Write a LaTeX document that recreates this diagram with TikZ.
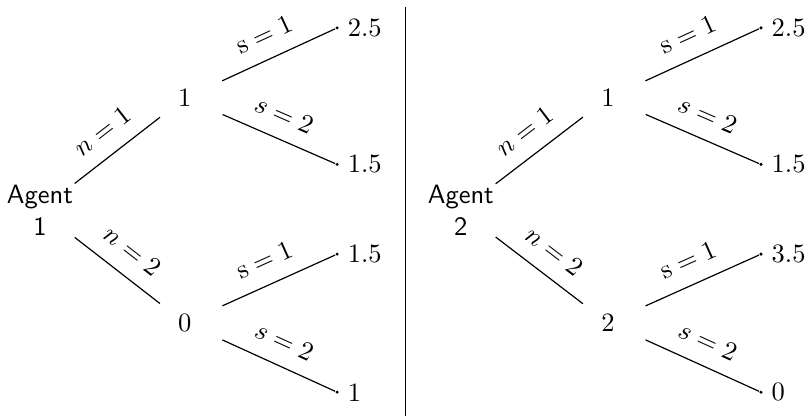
\documentclass[tikz,border=0pt]{standalone}
\usetikzlibrary{positioning}
\tikzset{
  agent/.style  = {align=center, font=\sffamily, inner sep=0.5pt},
  choice/.style = {circle, minimum size=8.2mm, inner sep=0pt},
  leaf/.style   = {circle, fill, inner sep=0.45pt},
  branch/.style = {line width=0.45pt},
  elabel/.style = {midway, above=2.5pt, sloped},
}

\begin{document}
\begin{tikzpicture}[
    every label/.style={inner sep=3pt}
]
\useasboundingbox (0,0) rectangle (10.70,-5.52);

% agent 1
\node[agent] (ag1) at (0.53,-2.79) {Agent\\1};
\node[choice] (ag1n1) at (2.45,-1.30) {1};
\node[choice] (ag1n2) at (2.45,-4.28) {0};

\node[leaf, label=right:2.5] (ag1n1s1) at (4.47,-0.37) {};
\node[leaf, label=right:1.5] (ag1n1s2) at (4.47,-2.18) {};
\node[leaf, label=right:1.5] (ag1n2s1) at (4.47,-3.37) {};
\node[leaf, label=right:1]   (ag1n2s2) at (4.47,-5.20) {};

% separator
\draw[branch] (5.38,-0.09) -- (5.38,-5.52);

% agent 2
\node[agent] (ag2) at (6.11,-2.79) {Agent\\2};
\node[choice] (ag2n1) at (8.06,-1.30) {1};
\node[choice] (ag2n2) at (8.06,-4.28) {2};

\node[leaf, label=right:2.5] (ag2n1s1) at (10.09,-0.37) {};
\node[leaf, label=right:1.5] (ag2n1s2) at (10.09,-2.18) {};
\node[leaf, label=right:3.5] (ag2n2s1) at (10.09,-3.37) {};
\node[leaf, label=right:0]   (ag2n2s2) at (10.09,-5.20) {};

% branches
\foreach \a in {ag1,ag2} {
    \draw[branch] (\a) -- node[elabel] {$n=1$} (\a n1);
    \draw[branch] (\a) -- node[elabel] {$n=2$} (\a n2);
    \foreach \n in {n1,n2} {
        \draw[branch, shorten <=1.3mm] (\a\n) -- node[elabel] {$\mathrm{s}=1$} (\a\n s1);
        \draw[branch, shorten <=1.3mm] (\a\n) -- node[elabel] {$s=2$} (\a\n s2);
    }
}

\end{tikzpicture}
\end{document}
